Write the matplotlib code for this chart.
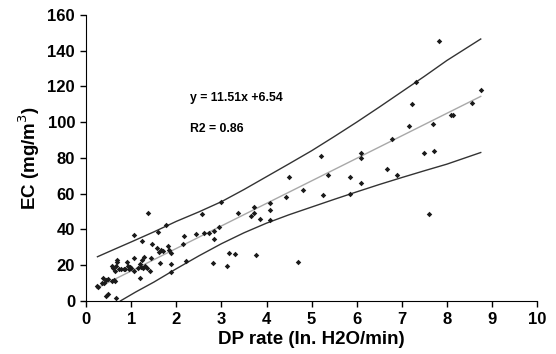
import matplotlib.pyplot as plt

# pontos medidos (DP rate x EC)
dp_rate = [0.24, 0.26, 0.35, 0.37, 0.39, 0.45, 0.48, 0.45, 0.48, 0.57, 0.61, 0.65,
           0.57, 0.59, 0.65, 0.66, 0.67, 0.68, 0.68, 0.72, 0.78, 0.83, 0.87, 0.91,
           0.93, 0.94, 0.98, 1.0, 1.05, 1.05, 1.07, 1.15, 1.19, 1.2, 1.22, 1.24,
           1.24, 1.26, 1.29, 1.31, 1.34, 1.37, 1.41, 1.43, 1.46, 1.58, 1.59, 1.61,
           1.63, 1.66, 1.71, 1.77, 1.82, 1.84, 1.87, 1.89, 1.89, 2.14, 2.17, 2.22,
           2.44, 2.57, 2.61, 2.73, 2.82, 2.83, 2.84, 2.95, 3.0, 3.13, 3.17, 3.29,
           3.36, 3.66, 3.73, 3.73, 3.76, 3.85, 4.08, 4.08, 4.08, 4.43, 4.49, 4.69,
           4.8, 5.2, 5.26, 5.36, 5.85, 5.85, 6.09, 6.09, 6.09, 6.67, 6.78, 6.9,
           7.16, 7.22, 7.32, 7.49, 7.61, 7.69, 7.72, 7.83, 8.09, 8.14, 8.55, 8.75]
ec = [8.3, 7.8, 9.8, 13, 10, 11.7, 12.2, 2.8, 3.7, 11, 11.5, 11,
      19.4, 18.5, 16.7, 19.4, 1.8, 23, 22, 17.6, 17.6, 18, 17.6, 22,
      19.4, 17.6, 19, 18.5, 24, 37, 16.7, 18.5, 13, 20.4, 19, 33.3,
      22.8, 18.5, 24.4, 19.4, 18.5, 49, 16.7, 24, 32, 29.6, 38.7, 27.2,
      21.3, 28.7, 27.8, 42.2, 30.5, 28.7, 26.9, 20.7, 16.1, 32, 36.5, 22.4,
      37.5, 48.5, 38, 38, 21.3, 39, 34.8, 41.1, 55.2, 19.3, 26.9, 26.2,
      49, 47.7, 52.4, 48.9, 25.7, 45.9, 54.6, 50.6, 45, 58, 69.2, 21.8,
      62.1, 80.8, 59, 70.3, 69.4, 60, 83, 79.7, 65.8, 73.8, 90.5, 70.3,
      98.1, 110.1, 122.2, 83, 48.5, 99.1, 83.6, 145.2, 104.1, 104.1, 110.7, 118.1]

# reta de regressao e limites
reta_x = [0.25, 8.75]
reta_y = [7.3, 114.4]
sup_x = [0.25, 0.6, 1.0, 1.5, 2.0, 2.5, 3.0, 3.5, 4.0, 4.5, 5.0, 5.5, 6.0, 6.5, 7.0, 7.5, 8.0, 8.75]
sup_y = [24.7, 28.6, 33, 38.6, 44.5, 49.8, 55.5, 62.3, 69.5, 76.7, 84, 91.9, 100, 108.4, 117, 125.6, 134.5, 146.5]
inf_x = [0.76, 1.1, 1.5, 2.0, 2.5, 3.0, 3.5, 4.0, 4.5, 5.0, 5.5, 6.0, 6.5, 7.0, 7.5, 8.0, 8.75]
inf_y = [0, 5, 10.5, 18, 25.2, 32, 38.1, 43.5, 48.2, 52.5, 56.8, 61, 65.1, 69, 72.8, 76.5, 83]

plt.rcParams['font.family'] = ['Liberation Sans', 'DejaVu Sans']

fig = plt.figure(figsize=(5.56, 3.54), dpi=100)
ax = fig.add_axes([0.155, 0.150, 0.811, 0.808])

ax.plot(sup_x, sup_y, color='#333333', lw=1)
ax.plot(inf_x, inf_y, color='#333333', lw=1)
ax.plot(reta_x, reta_y, color='#a8a8a8', lw=1)
ax.plot(dp_rate, ec, 'D', color='#1a1a1a', ms=2.8, mew=0)

ax.set_xlim(0, 10)
ax.set_ylim(0, 160)
ax.set_xticks(range(0, 11))
ax.set_yticks(range(0, 161, 20))
ax.spines['top'].set_visible(False)
ax.spines['right'].set_visible(False)
ax.tick_params(direction='out', length=4, width=1, labelsize=12, pad=4)
for lab in ax.get_xticklabels() + ax.get_yticklabels():
    lab.set_fontweight('bold')

ax.set_xlabel('DP rate (In. H2O/min)', fontsize=13.5, fontweight='bold', labelpad=3)
ax.set_ylabel('EC (mg/m$^3$)', fontsize=13.5, fontweight='bold', labelpad=4)

ax.text(2.31, 113.7, 'y = 11.51x +6.54', fontsize=8.8, fontweight='bold', va='center')
ax.text(2.31, 96.3, 'R2 = 0.86', fontsize=8.8, fontweight='bold', va='center')

fig.savefig('out.png', dpi=100)
